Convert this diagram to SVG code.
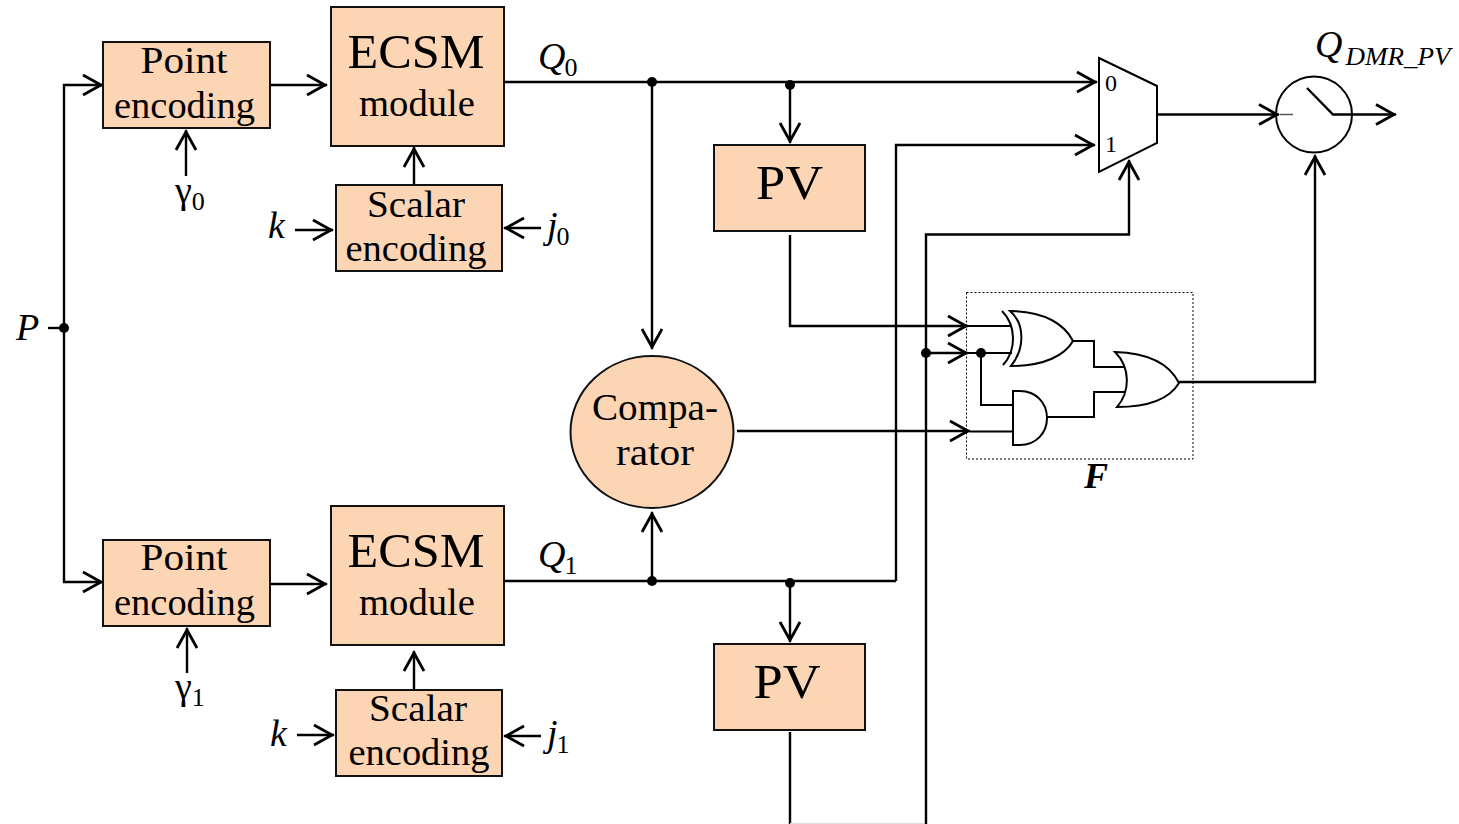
<svg xmlns="http://www.w3.org/2000/svg" width="1459" height="824" viewBox="0 0 1459 824">
<style>
.b{fill:#fcd5b4;stroke:#111;stroke-width:2}
.w{fill:none;stroke:#000;stroke-width:2.400}
.a{marker-end:url(#ah)}
.g{fill:#fff;stroke:#000;stroke-width:2}
text{font-family:"Liberation Serif","Times New Roman",serif;fill:#000}
.m{text-anchor:middle}
.i{font-style:italic}
.s{font-size:26px;font-style:normal}
.l{font-size:38px}
.h{font-size:48px}
</style>
<defs>
<marker id="ah" markerUnits="userSpaceOnUse" markerWidth="26" markerHeight="26" refX="22" refY="12" orient="auto">
<path d="M2 2L20 12L2 22" fill="none" stroke="#000" stroke-width="2.800"/>
</marker>
</defs>
<g id="connectors">
<path class="w" d="M48 328H64"/>
<path class="w a" d="M64 328V85H103"/>
<path class="w a" d="M64 328V582H103"/>
<path class="w a" d="M270 85H327"/>
<path class="w a" d="M270 584H327"/>
<path class="w a" d="M186 176V130"/>
<path class="w a" d="M187 673V628"/>
<path class="w a" d="M414 185V147"/>
<path class="w a" d="M414 690V651"/>
<path class="w a" d="M295 230H333"/>
<path class="w a" d="M297 735H334"/>
<path class="w a" d="M541 228H504"/>
<path class="w a" d="M541 736H504"/>
<path class="w a" d="M504 82H1097"/>
<path class="w a" d="M652 82V349"/>
<path class="w a" d="M790 82V143"/>
<path class="w a" d="M790 235V326H968"/>
<path class="w" d="M504 581H896"/>
<path class="w a" d="M896 581V145H1095"/>
<path class="w a" d="M652 581V512"/>
<path class="w a" d="M790 581V642"/>
<path class="w" d="M790 732V824"/>
<path d="M790 823.500H926" stroke="#ddd" fill="none"/>
<path class="w a" d="M926 824V234.500H1129V160"/>
<path class="w a" d="M926 353H968"/>
<path class="w a" d="M737 431H970"/>
<path class="w" d="M968 326H1012M968 353H1012M981 353V405H1013M970 431.500H1013" style="stroke-width:2"/>
<path class="w" d="M1073 341H1094V367H1127M1047 417H1094V392H1127" style="stroke-width:2"/>
<path class="w a" d="M1179 382H1315V155"/>
<path class="w a" d="M1157 114.500H1279"/>
<circle cx="64" cy="328" r="5"/>
<circle cx="652" cy="82" r="5"/>
<circle cx="790" cy="85" r="5"/>
<circle cx="652" cy="581" r="5"/>
<circle cx="790" cy="583" r="5"/>
<circle cx="926" cy="353" r="5"/>
<circle cx="981" cy="353" r="5"/>
</g>
<g id="point0"><rect class="b" x="103" y="42" width="167" height="86"/><text class="l m" x="184" y="73" textLength="87" lengthAdjust="spacingAndGlyphs">Point</text><text class="l m" x="184.500" y="118" textLength="141" lengthAdjust="spacingAndGlyphs">encoding</text></g>
<g id="ecsm0"><rect class="b" x="331" y="7" width="173" height="139"/><text class="h m" x="416" y="68" textLength="137" lengthAdjust="spacingAndGlyphs">ECSM</text><text class="l m" x="417" y="116" textLength="116" lengthAdjust="spacingAndGlyphs">module</text></g>
<g id="scalar0"><rect class="b" x="336" y="185" width="166" height="86"/><text class="l m" x="416" y="217" textLength="98" lengthAdjust="spacingAndGlyphs">Scalar</text><text class="l m" x="416" y="261" textLength="141" lengthAdjust="spacingAndGlyphs">encoding</text></g>
<g id="pv0"><rect class="b" x="714" y="145" width="151" height="86"/><text class="h m" x="789.500" y="199" textLength="67" lengthAdjust="spacingAndGlyphs">PV</text></g>
<g id="comparator"><ellipse class="b" cx="652" cy="432" rx="81.500" ry="76"/><text class="l m" x="655" y="420" textLength="126" lengthAdjust="spacingAndGlyphs">Compa-</text><text class="l m" x="655" y="465" textLength="78" lengthAdjust="spacingAndGlyphs">rator</text></g>
<g id="point1"><rect class="b" x="103" y="540" width="167" height="86"/><text class="l m" x="184" y="570" textLength="87" lengthAdjust="spacingAndGlyphs">Point</text><text class="l m" x="184.500" y="615" textLength="141" lengthAdjust="spacingAndGlyphs">encoding</text></g>
<g id="ecsm1"><rect class="b" x="331" y="506" width="173" height="139"/><text class="h m" x="416" y="567" textLength="137" lengthAdjust="spacingAndGlyphs">ECSM</text><text class="l m" x="417" y="615" textLength="116" lengthAdjust="spacingAndGlyphs">module</text></g>
<g id="scalar1"><rect class="b" x="336" y="690" width="166" height="86"/><text class="l m" x="418" y="721" textLength="98" lengthAdjust="spacingAndGlyphs">Scalar</text><text class="l m" x="419" y="765" textLength="141" lengthAdjust="spacingAndGlyphs">encoding</text></g>
<g id="pv1"><rect class="b" x="714" y="644" width="151" height="86"/><text class="h m" x="787" y="698" textLength="67" lengthAdjust="spacingAndGlyphs">PV</text></g>
<g id="mux"><path class="g" d="M1099 58L1157 86V143L1099 172Z"/><text x="1105" y="91" font-size="24">0</text><text x="1105" y="152" font-size="24">1</text></g>
<g id="switch"><circle cx="1314" cy="114.500" r="38" fill="none" stroke="#000" stroke-width="2"/><path d="M1280 114.500H1293" stroke="#555" stroke-width="1.500" fill="none"/><path class="w a" d="M1307 88L1333 114.500H1396"/></g>
<g id="gate-f"><rect x="966.500" y="292.500" width="226.500" height="166.500" fill="none" stroke="#000" stroke-dasharray="2 2"/>
<path class="g" d="M1010 311C1045 311 1065 325 1073 341C1065 355 1045 366 1011 366C1024 350 1026 325 1010 311Z"/>
<path class="w" d="M1002 311C1016 325 1017 350 1003 365" style="stroke-width:2"/>
<path class="g" d="M1115 352C1150 353 1170 365 1179 383C1170 398 1150 407 1117 407C1130 392 1131 368 1115 352Z"/>
<path class="g" d="M1013 391H1020C1036 391 1047 403 1047 418C1047 433 1036 445 1020 445H1013Z"/>
<text class="i m" x="1096" y="488" font-size="36" font-weight="bold">F</text></g>
<g id="labels">
<text class="i" x="16" y="340" font-size="38">P</text>
<text class="i" x="538" y="69" font-size="38">Q<tspan class="s" dx="-1" dy="7">0</tspan></text>
<text class="i" x="538" y="567" font-size="38">Q<tspan class="s" dx="-1" dy="7">1</tspan></text>
<text x="175" y="203" font-size="38">γ<tspan class="s" dy="7">0</tspan></text>
<text x="175" y="699" font-size="38">γ<tspan class="s" dy="7">1</tspan></text>
<text class="i" x="268" y="238" font-size="38">k</text>
<text class="i" x="270" y="746" font-size="38">k</text>
<text class="i" x="547" y="238" font-size="38">j<tspan class="s" dx="-1" dy="7">0</tspan></text>
<text class="i" x="547" y="746" font-size="38">j<tspan class="s" dx="-1" dy="7">1</tspan></text>
<text class="i" x="1315" y="57" font-size="38">Q<tspan dx="3" dy="8" font-size="26" textLength="105" lengthAdjust="spacingAndGlyphs">DMR_PV</tspan></text>
</g>
</svg>
